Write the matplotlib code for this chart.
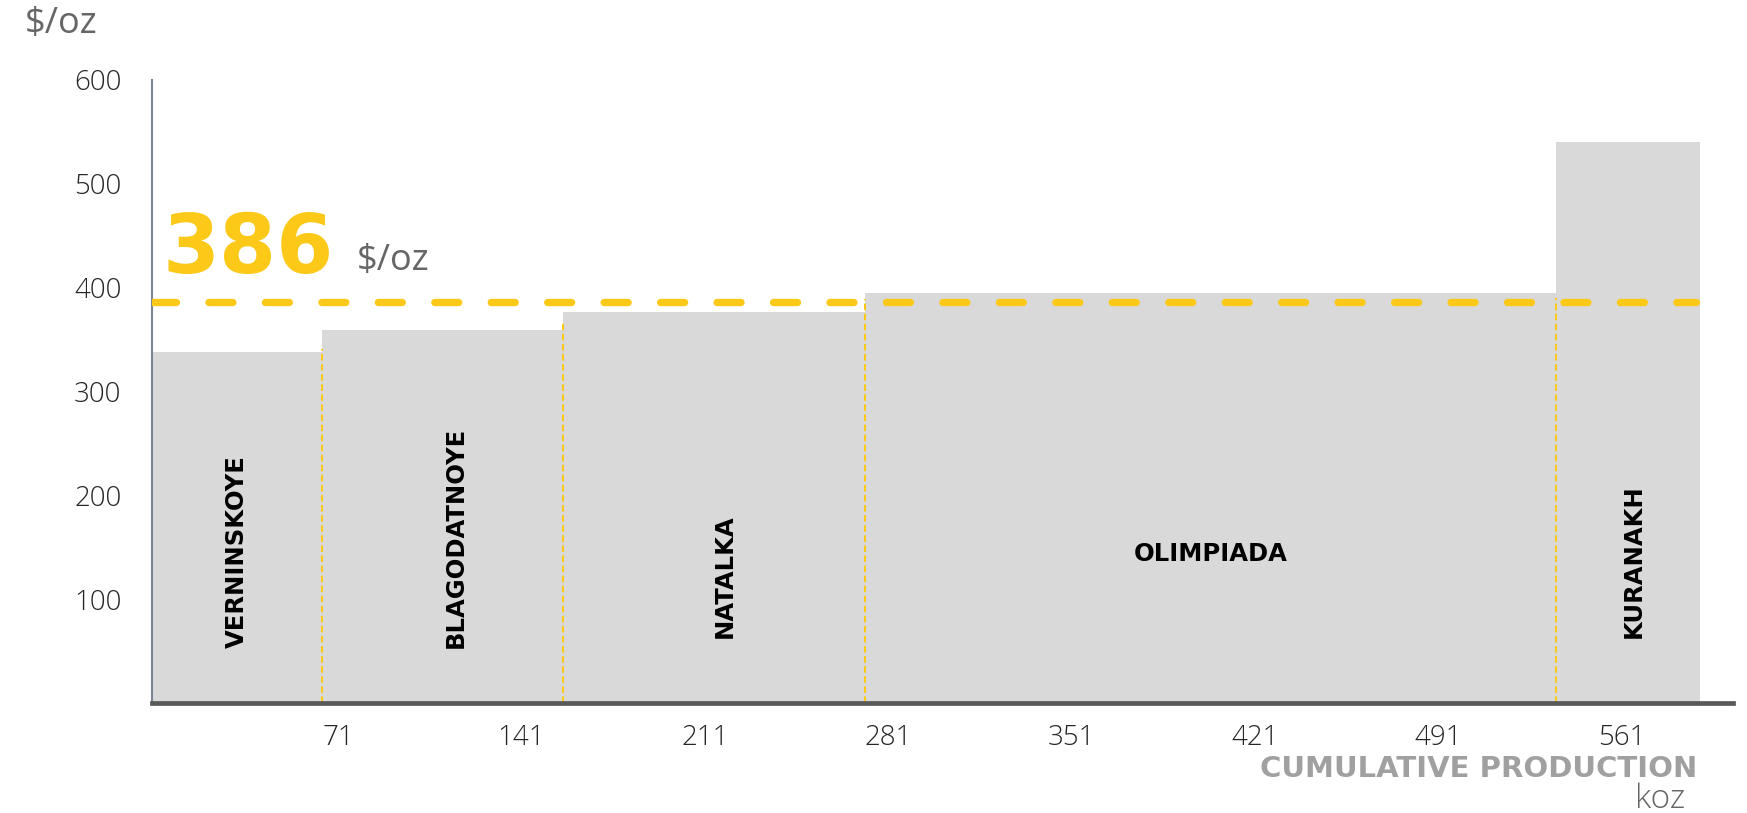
import numpy as np
import matplotlib
matplotlib.use('Agg')
import matplotlib.pyplot as plt

# cash cost curve data
mines = ['VERNINSKOYE', 'BLAGODATNOYE', 'NATALKA', 'OLIMPIADA', 'KURANAKH']
production = [65, 92, 115, 264, 55]          # koz, bar widths
cash_cost = [338, 359, 377, 395, 540]        # $/oz, bar heights
avg_cost = 386
sep_tops = [341, 366, 389, 390]              # tops of thin separator lines
xticks = [71, 141, 211, 281, 351, 421, 491, 561]
yticks = [100, 200, 300, 400, 500, 600]

# label placement (koz, $/oz)
label_x = [32.3, 115.8, 218.5, 404.3, 565.5]
label_y = [53, 53, 62.5, 144, 62.5]
label_rot = [90, 90, 90, 0, 90]

yellow = '#FCC918'
W, H = 1747, 813

lefts = np.concatenate([[0], np.cumsum(production)[:-1]])
bounds = np.cumsum(production)

fig = plt.figure(figsize=(W / 100, H / 100), dpi=100)
ax = fig.add_axes([152 / W, (H - 703.4) / H, (1733 - 152) / W, (703.4 - 80) / H])
ax.set_xlim(0, 603.5)
ax.set_ylim(0, 600)

ax.bar(lefts, cash_cost, width=production, align='edge', color='#D9D9D9', zorder=1)

# thin separators between mines
ax.vlines(bounds[:-1], 0, sep_tops, colors=yellow, linestyles=(0, (3.3, 1.7)),
          linewidth=1.45, zorder=2)

# weighted average line
ax.plot([0, bounds[-1] - 1.5], [avg_cost, avg_cost], color=yellow, linewidth=5.3,
        dashes=(3.25, 4.42), dash_capstyle='round', zorder=3)

for name, x, y, r in zip(mines, label_x, label_y, label_rot):
    ax.text(x, y, name, rotation=r, ha='center', va='bottom' if r else 'center',
            fontsize=17.5, fontweight='bold', color='black', family='DejaVu Sans', zorder=4)

ax.set_xticks(xticks)
ax.set_xticklabels([str(v) for v in xticks])
ax.set_yticks(yticks)
ax.set_yticklabels([str(v) for v in yticks])
ax.tick_params(length=0)
ax.tick_params(axis='x', pad=15)
ax.tick_params(axis='y', pad=22)
for lab in ax.get_xticklabels() + ax.get_yticklabels():
    lab.set_family('Open Sans')
    lab.set_fontweight('light')
    lab.set_fontsize(20)
    lab.set_color('#262626')

ax.spines['top'].set_visible(False)
ax.spines['right'].set_visible(False)
ax.spines['left'].set_color('#7B8494')
ax.spines['left'].set_linewidth(1.5)
ax.spines['bottom'].set_color('#595959')
ax.spines['bottom'].set_linewidth(3.4)
ax.spines['bottom'].set_zorder(5)

fig.text(24.5 / W, 1 - 24.5 / H, '$/oz', ha='left', va='center', fontsize=26,
         color='#666666', family='Open Sans')
fig.text(163 / W, 1 - 273 / H, str(avg_cost), ha='left', va='baseline', fontsize=59,
         fontweight='bold', color=yellow, family='DejaVu Sans')
fig.text(356.5 / W, 1 - 269.6 / H, '$/oz', ha='left', va='baseline', fontsize=26,
         color='#666666', family='Open Sans')
fig.text(1697 / W, 1 - 769 / H, 'CUMULATIVE PRODUCTION', ha='right', va='center',
         fontsize=21, fontweight='bold', color='#A0A0A0', family='DejaVu Sans')
fig.text(1685 / W, 1 - 799 / H, 'koz', ha='right', va='center', fontsize=24,
         color='#666666', family='Open Sans', fontweight='light')

fig.savefig('out.png', dpi=100)
